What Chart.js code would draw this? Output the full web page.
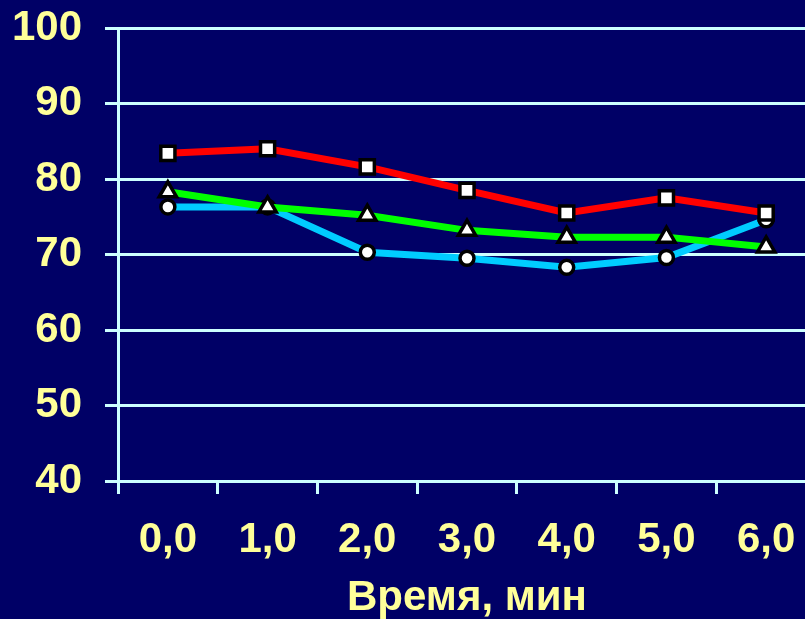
<!DOCTYPE html>
<html>
<head>
<meta charset="utf-8">
<script src="https://cdn.jsdelivr.net/npm/chart.js@4"></script>
<style>
  html, body { margin: 0; padding: 0; background: #000066; overflow: hidden; }
  #wrap { width: 830px; height: 619px; }
</style>
</head>
<body>
<div id="wrap"><canvas id="timeChart" width="830" height="619"></canvas></div>
<script>
// Data
const categories = ["0,0", "1,0", "2,0", "3,0", "4,0", "5,0", "6,0"];
const redSeries = [83.4, 84.0, 81.6, 78.5, 75.5, 77.5, 75.5];
const greenSeries = [78.3, 76.3, 75.2, 73.2, 72.3, 72.3, 71.0];
const blueSeries = [76.3, 76.3, 70.3, 69.5, 68.3, 69.6, 74.6];
const yTicks = [40, 50, 60, 70, 80, 90, 100];

const gridColor = "#CCFFFF";
const labelColor = "#FFFF99";
const fontFamily = "'Liberation Sans', Arial, sans-serif";

function initTimeChart() {
  const ctx = document.getElementById("timeChart").getContext("2d");
  new Chart(ctx, {
    type: "line",
    data: {
      labels: categories,
      datasets: [{
        data: redSeries,
        borderColor: "#FF0000",
        borderWidth: 7,
        pointStyle: "rect",
        pointRadius: 10,
        pointBackgroundColor: "#FFFFFF",
        pointBorderColor: "#000000",
        pointBorderWidth: 3.5,
        order: 1
      }, {
        data: greenSeries,
        borderColor: "#00FF00",
        borderWidth: 7,
        pointStyle: "triangle",
        pointRadius: 10,
        pointBackgroundColor: "#FFFFFF",
        pointBorderColor: "#000000",
        pointBorderWidth: 3.5,
        order: 2
      }, {
        data: blueSeries,
        borderColor: "#00CCFF",
        borderWidth: 7,
        pointStyle: "circle",
        pointRadius: 7,
        pointBackgroundColor: "#FFFFFF",
        pointBorderColor: "#000000",
        pointBorderWidth: 3.5,
        order: 3
      }]
    },
    options: {
      responsive: false,
      animation: false,
      layout: { padding: { top: 28, right: 14, left: 0, bottom: 0 } },
      plugins: { legend: { display: false }, tooltip: { enabled: false } },
      scales: {
        x: {
          offset: true,
          grid: {
            offset: true,
            drawOnChartArea: false,
            color: gridColor,
            lineWidth: 3,
            tickLength: 13
          },
          border: { color: gridColor, width: 3 },
          ticks: {
            color: labelColor,
            padding: 21,
            font: { family: fontFamily, size: 42, weight: "bold" }
          },
          title: {
            display: true,
            text: "Время, мин",
            color: labelColor,
            padding: 0,
            font: { family: fontFamily, size: 42, weight: "bold", lineHeight: 1 }
          },
          afterFit: function(scale) { scale.height = 138; }
        },
        y: {
          min: 40,
          max: 100,
          afterBuildTicks: function(scale) {
            scale.ticks = yTicks.map(v => ({ value: v }));
          },
          grid: {
            color: gridColor,
            lineWidth: 3,
            tickLength: 13
          },
          border: { color: gridColor, width: 3 },
          ticks: {
            color: labelColor,
            padding: 23,
            font: { family: fontFamily, size: 42, weight: "bold" }
          },
          // fixed axis width, no extra room for the top label
          afterFit: function(scale) { scale.width = 118; scale.paddingTop = 0; scale.paddingBottom = 0; }
        }
      }
    }
  });
}

initTimeChart();
</script>
</body>
</html>
